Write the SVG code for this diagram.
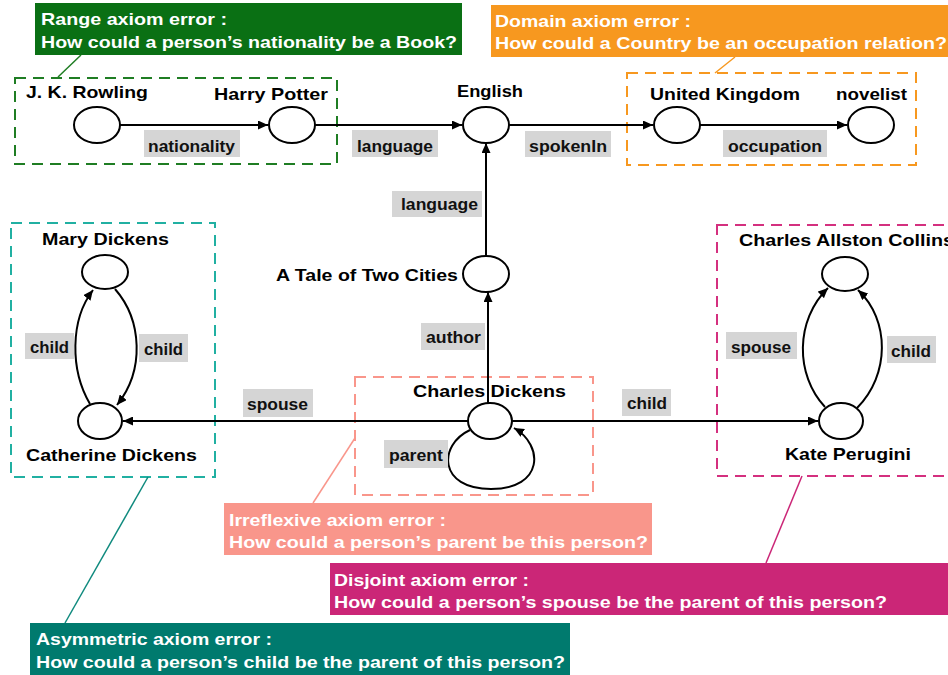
<svg xmlns="http://www.w3.org/2000/svg" width="948" height="675" viewBox="0 0 948 675">
<defs>
<marker id="arr" markerUnits="userSpaceOnUse" markerWidth="10" markerHeight="9" refX="10" refY="4.5" orient="auto">
<path d="M0,0 L10,4.5 L0,9 z" fill="#000"/>
</marker>
<style>
.node{fill:#fff;stroke:#000;stroke-width:2}
.edge{fill:none;stroke:#000;stroke-width:2;marker-end:url(#arr)}
.nl{font-family:"Liberation Sans",Arial,sans-serif;font-weight:bold;font-size:17px;fill:#000}
.el{font-family:"Liberation Sans",Arial,sans-serif;font-weight:bold;font-size:16px;fill:#111}
.lb{fill:#d5d5d5}
.ct{font-family:"Liberation Sans",Arial,sans-serif;font-weight:bold;font-size:17px;fill:#fff}
.dash{fill:none;stroke-width:2;stroke-dasharray:11,7}
.lead{fill:none;stroke-width:1.5}
</style>
</defs>
<rect width="948" height="675" fill="#fff"/>

<g id="dashed-boxes">
<rect class="dash" x="15" y="78" width="322" height="86" stroke="#1f7d23"/>
<rect class="dash" x="627" y="73" width="289" height="92" stroke="#f7981f"/>
<rect class="dash" x="11" y="223" width="204" height="254" stroke="#21b0a2"/>
<rect class="dash" x="717" y="225" width="240" height="251" stroke="#d4307f"/>
<rect class="dash" x="355" y="377" width="238" height="118" stroke="#f9968b"/>
</g>

<g id="connectors">
<line class="edge" x1="120" y1="125" x2="268" y2="125"/>
<line class="edge" x1="315" y1="125" x2="462" y2="125"/>
<line class="edge" x1="509" y1="125" x2="653" y2="125"/>
<line class="edge" x1="700" y1="125" x2="847" y2="125"/>
<line class="edge" x1="486" y1="256" x2="486" y2="143"/>
<line class="edge" x1="488" y1="403" x2="488" y2="292"/>
<line class="edge" x1="468" y1="421" x2="123" y2="421"/>
<line class="edge" x1="512" y1="421" x2="818" y2="421"/>
<path class="edge" d="M90 404 C70 370 70 320 93 290"/>
<path class="edge" d="M115 289 C142 320 145 370 117 405"/>
<path class="edge" d="M825 407 C795 375 795 320 828 288"/>
<path class="edge" d="M857 408 C890 375 890 320 858 290"/>
<path class="edge" d="M470 430 C438 445 438 489 491 489 C544 489 544 445 514 428"/>
</g>

<g id="edge-labels">
<rect class="lb" x="144" y="130" width="96" height="27"/><text class="el" x="148" y="152" textLength="87" lengthAdjust="spacingAndGlyphs">nationality</text>
<rect class="lb" x="352" y="130" width="86" height="27"/><text class="el" x="357" y="152" textLength="76" lengthAdjust="spacingAndGlyphs">language</text>
<rect class="lb" x="525" y="131" width="86" height="26"/><text class="el" x="529" y="152" textLength="78" lengthAdjust="spacingAndGlyphs">spokenIn</text>
<rect class="lb" x="723" y="130" width="104" height="27"/><text class="el" x="728" y="152" textLength="94" lengthAdjust="spacingAndGlyphs">occupation</text>
<rect class="lb" x="392" y="191" width="90" height="26"/><text class="el" x="401" y="210" textLength="77" lengthAdjust="spacingAndGlyphs">language</text>
<rect class="lb" x="421" y="323" width="64" height="27"/><text class="el" x="426" y="343" textLength="55" lengthAdjust="spacingAndGlyphs">author</text>
<rect class="lb" x="243" y="389" width="70" height="28"/><text class="el" x="247" y="410" textLength="61" lengthAdjust="spacingAndGlyphs">spouse</text>
<rect class="lb" x="622" y="389" width="49" height="27"/><text class="el" x="627" y="409" textLength="40" lengthAdjust="spacingAndGlyphs">child</text>
<rect class="lb" x="384" y="440" width="64" height="28"/><text class="el" x="389" y="461" textLength="54" lengthAdjust="spacingAndGlyphs">parent</text>
<rect class="lb" x="25" y="333" width="49" height="26"/><text class="el" x="30" y="353" textLength="39" lengthAdjust="spacingAndGlyphs">child</text>
<rect class="lb" x="139" y="334" width="49" height="28"/><text class="el" x="144" y="355" textLength="39" lengthAdjust="spacingAndGlyphs">child</text>
<rect class="lb" x="726" y="332" width="71" height="27"/><text class="el" x="731" y="353" textLength="60" lengthAdjust="spacingAndGlyphs">spouse</text>
<rect class="lb" x="887" y="336" width="49" height="27"/><text class="el" x="891" y="357" textLength="40" lengthAdjust="spacingAndGlyphs">child</text>
</g>

<g id="n-rowling"><ellipse class="node" cx="97" cy="125" rx="23" ry="18"/><text class="nl" x="26" y="98" textLength="122" lengthAdjust="spacingAndGlyphs">J. K. Rowling</text></g>
<g id="n-potter"><ellipse class="node" cx="292" cy="125" rx="23" ry="18"/><text class="nl" x="214" y="100" textLength="114" lengthAdjust="spacingAndGlyphs">Harry Potter</text></g>
<g id="n-english"><ellipse class="node" cx="486" cy="125" rx="23" ry="18"/><text class="nl" x="457" y="97" textLength="66" lengthAdjust="spacingAndGlyphs">English</text></g>
<g id="n-uk"><ellipse class="node" cx="677" cy="125" rx="23" ry="18"/><text class="nl" x="650" y="100" textLength="150" lengthAdjust="spacingAndGlyphs">United Kingdom</text></g>
<g id="n-novelist"><ellipse class="node" cx="871" cy="125" rx="23" ry="18"/><text class="nl" x="836" y="100" textLength="71" lengthAdjust="spacingAndGlyphs">novelist</text></g>
<g id="n-tale"><ellipse class="node" cx="486" cy="274" rx="23" ry="18"/><text class="nl" x="276" y="281" textLength="182" lengthAdjust="spacingAndGlyphs">A Tale of Two Cities</text></g>
<g id="n-charles"><ellipse class="node" cx="490" cy="421" rx="22" ry="18"/><text class="nl" x="413" y="397" textLength="153" lengthAdjust="spacingAndGlyphs">Charles Dickens</text></g>
<g id="n-mary"><ellipse class="node" cx="105" cy="272" rx="23" ry="17"/><text class="nl" x="42" y="245" textLength="127" lengthAdjust="spacingAndGlyphs">Mary Dickens</text></g>
<g id="n-catherine"><ellipse class="node" cx="100" cy="421" rx="22" ry="18"/><text class="nl" x="26" y="461" textLength="171" lengthAdjust="spacingAndGlyphs">Catherine Dickens</text></g>
<g id="n-collins"><ellipse class="node" cx="845" cy="274" rx="23" ry="17"/><text class="nl" x="739" y="246" textLength="215" lengthAdjust="spacingAndGlyphs">Charles Allston Collins</text></g>
<g id="n-kate"><ellipse class="node" cx="841" cy="421" rx="22" ry="18"/><text class="nl" x="785" y="460" textLength="126" lengthAdjust="spacingAndGlyphs">Kate Perugini</text></g>

<g id="leaders">
<line class="lead" x1="81" y1="55" x2="58" y2="77" stroke="#1f7d23"/>
<line class="lead" x1="735" y1="57" x2="715" y2="73" stroke="#f7981f"/>
<line class="lead" x1="355" y1="438" x2="313" y2="503" stroke="#f9968b"/>
<line class="lead" x1="802" y1="476" x2="766" y2="563" stroke="#cb2677"/>
<line class="lead" x1="148" y1="477" x2="65" y2="623" stroke="#0f8a7e"/>
</g>

<g id="c-range"><rect x="35" y="3" width="427" height="52" fill="#0a7014"/>
<text class="ct" x="41" y="25" textLength="186" lengthAdjust="spacingAndGlyphs">Range axiom error :</text>
<text class="ct" x="41" y="48" textLength="416" lengthAdjust="spacingAndGlyphs">How could a person’s nationality be a Book?</text></g>
<g id="c-domain"><rect x="491" y="5" width="460" height="52" fill="#f7981f"/>
<text class="ct" x="495" y="27" textLength="196" lengthAdjust="spacingAndGlyphs">Domain axiom error :</text>
<text class="ct" x="495" y="49" textLength="452" lengthAdjust="spacingAndGlyphs">How could a Country be an occupation relation?</text></g>
<g id="c-irreflexive"><rect x="224" y="503" width="428" height="52" fill="#f9968b"/>
<text class="ct" x="229" y="526" textLength="217" lengthAdjust="spacingAndGlyphs">Irreflexive axiom error :</text>
<text class="ct" x="229" y="548" textLength="419" lengthAdjust="spacingAndGlyphs">How could a person’s parent be this person?</text></g>
<g id="c-disjoint"><rect x="330" y="563" width="622" height="52" fill="#cb2677"/>
<text class="ct" x="334" y="586" textLength="195" lengthAdjust="spacingAndGlyphs">Disjoint axiom error :</text>
<text class="ct" x="334" y="608" textLength="553" lengthAdjust="spacingAndGlyphs">How could a person’s spouse be the parent of this person?</text></g>
<g id="c-asymmetric"><rect x="30" y="623" width="540" height="55" fill="#007a6e"/>
<text class="ct" x="36" y="645" textLength="236" lengthAdjust="spacingAndGlyphs">Asymmetric axiom error :</text>
<text class="ct" x="36" y="668" textLength="529" lengthAdjust="spacingAndGlyphs">How could a person’s child be the parent of this person?</text></g>
</svg>
